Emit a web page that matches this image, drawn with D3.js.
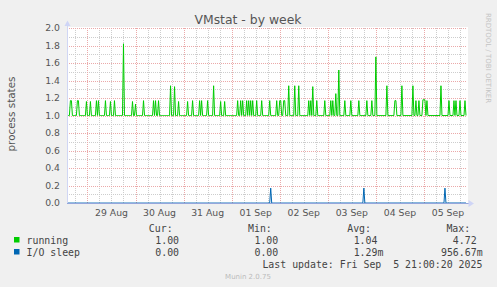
<!DOCTYPE html>
<html>
<head>
<meta charset="utf-8">
<script src="https://cdn.jsdelivr.net/npm/d3@7"></script>
<style>
  body { margin: 0; background: #f0f0f0; }
  svg { display: block; }
</style>
</head>
<body>
<script>
var w = 497;
var h = 287;

// 30 minute samples, first one at 28 Aug 14:00 UTC
var sampleStart = Date.UTC(2025, 7, 28, 14, 0);
var sampleStep = 30 * 60 * 1000;

var running = [
  1,1,1,1.17,1.17,1,1,1,1,1,1.17,1.17,1,1,1,1,1,1,1,1.16,
  1,1,1,1.16,1,1,1,1,1,1.17,1,1.17,1,1,1,1,1,1,1.17,1,
  1,1,1,1.16,1,1,1,1.17,1,1,1,1,1,1,1,1,1.82,1,1,1,
  1,1,1,1,1,1.16,1,1,1.13,1,1,1,1,1,1,1,1.17,1,1,1,
  1,1,1,1,1,1,1.17,1,1.17,1,1,1.17,1,1,1,1,1,1,1,1,
  1,1,1,1.34,1,1,1,1.33,1,1,1,1.16,1,1,1,1,1,1,1,1,
  1.16,1,1,1,1,1.17,1,1,1,1,1,1,1.17,1,1.17,1,1,1,1,1,
  1.17,1,1,1,1,1,1.34,1,1,1,1,1,1,1.16,1,1,1,1.16,1,1,
  1,1,1,1,1,1,1,1,1,1,1.17,1,1,1.17,1,1.17,1,1,1,1.17,
  1,1.17,1,1.17,1,1.17,1,1,1,1.17,1,1,1,1,1.17,1,1,1,1,1,
  1,1,1.17,1,1,1,1,1,1,1.17,1,1,1.17,1.17,1,1,1.17,1.17,1,1,
  1,1.34,1,1,1,1,1,1.34,1,1,1,1.34,1,1,1,1,1,1,1,1,
  1,1.17,1,1.17,1,1.33,1,1,1,1.17,1,1,1,1,1,1,1,1.17,1,1,
  1,1,1,1.17,1,1.17,1,1,1.25,1,1,1.52,1,1,1,1,1,1.17,1,1,
  1,1,1,1.17,1,1,1,1,1,1,1,1.17,1,1,1,1,1,1,1,1.17,
  1,1,1,1,1.17,1,1,1,1.67,1,1,1,1,1,1,1,1,1,1,1.34,
  1,1,1,1,1,1,1,1.17,1.17,1,1,1,1,1,1.34,1,1,1,1,1,
  1,1,1,1,1,1.34,1,1,1.17,1,1,1.17,1,1,1,1.18,1.18,1.18,1,1.17,
  1,1,1,1,1,1,1,1,1,1,1,1,1,1.34,1,1,1,1,1,1,
  1,1.17,1,1,1,1,1.17,1,1.17,1,1,1,1.17,1,1,1,1,1.17,1
];

var ioSleep = [
  0,0,0,0,0,0,0,0,0,0,0,0,0,0,0,0,0,0,0,0,
  0,0,0,0,0,0,0,0,0,0,0,0,0,0,0,0,0,0,0,0,
  0,0,0,0,0,0,0,0,0,0,0,0,0,0,0,0,0,0,0,0,
  0,0,0,0,0,0,0,0,0,0,0,0,0,0,0,0,0,0,0,0,
  0,0,0,0,0,0,0,0,0,0,0,0,0,0,0,0,0,0,0,0,
  0,0,0,0,0,0,0,0,0,0,0,0,0,0,0,0,0,0,0,0,
  0,0,0,0,0,0,0,0,0,0,0,0,0,0,0,0,0,0,0,0,
  0,0,0,0,0,0,0,0,0,0,0,0,0,0,0,0,0,0,0,0,
  0,0,0,0,0,0,0,0,0,0,0,0,0,0,0,0,0,0,0,0,
  0,0,0,0,0,0,0,0,0,0,0,0,0,0,0,0,0,0,0,0,
  0,0,0,0.17,0,0,0,0,0,0,0,0,0,0,0,0,0,0,0,0,
  0,0,0,0,0,0,0,0,0,0,0,0,0,0,0,0,0,0,0,0,
  0,0,0,0,0,0,0,0,0,0,0,0,0,0,0,0,0,0,0,0,
  0,0,0,0,0,0,0,0,0,0,0,0,0,0,0,0,0,0,0,0,
  0,0,0,0,0,0,0,0,0,0,0,0,0,0,0,0,0.17,0,0,0,
  0,0,0,0,0,0,0,0,0,0,0,0,0,0,0,0,0,0,0,0,
  0,0,0,0,0,0,0,0,0,0,0,0,0,0,0,0,0,0,0,0,
  0,0,0,0,0,0,0,0,0,0,0,0,0,0,0,0,0,0,0,0,
  0,0,0,0,0,0,0,0,0,0,0,0,0,0,0,0,0,0.17,0,0,
  0,0,0,0,0,0,0,0,0,0,0,0,0,0,0,0,0,0,0
];

var yTicks = [0, 0.2, 0.4, 0.6, 0.8, 1.0, 1.2, 1.4, 1.6, 1.8, 2.0];
var legendNames = ["running", "I/O sleep"];
var legendColors = ["#00cc00", "#0066b3"];
var curVals = ["1.00", "0.00"];
var minVals = ["1.00", "0.00"];
var avgVals = ["1.04", "1.29m"];
var maxVals = ["4.72", "956.67m"];
var colHeads = ["Cur:", "Min:", "Avg:", "Max:"];

function toPoints(arr) {
  return arr.map(function(v, i) {
    return { t: new Date(sampleStart + i * sampleStep), v: v };
  });
}

var pLeft = 67, pRight = 467, pTop = 28, pBottom = 203;

var xScale = d3.scaleUtc()
  .domain([new Date(Date.UTC(2025, 7, 28, 13, 48)), new Date(Date.UTC(2025, 8, 5, 21, 30))])
  .range([pLeft, pRight]);

var yScale = d3.scaleLinear()
  .domain([0, 2])
  .range([pBottom, pTop]);

var svg = d3.select("body")
  .append("svg")
  .attr("width", w)
  .attr("height", h)
  .style("font-family", "'DejaVu Sans', sans-serif");

svg.append("rect").attr("width", w).attr("height", h).attr("fill", "#f0f0f0");
svg.append("rect")
  .attr("x", pLeft).attr("y", pTop - 1)
  .attr("width", pRight - pLeft + 1).attr("height", pBottom - pTop + 1)
  .attr("fill", "#ffffff");

// grid
var grid = svg.append("g").attr("stroke-dasharray", "1,1").attr("stroke-width", 1);
var dom = xScale.domain();

grid.selectAll("line.xminor")
  .data(d3.utcHour.every(6).range(dom[0], dom[1]).filter(function(d) { return d.getUTCHours() !== 0; }))
  .enter().append("line")
  .attr("x1", function(d) { return Math.round(xScale(d)) + 0.5; })
  .attr("x2", function(d) { return Math.round(xScale(d)) + 0.5; })
  .attr("y1", pTop).attr("y2", pBottom)
  .attr("stroke", "#cdcdcd");

grid.selectAll("line.yminor")
  .data([0.1, 0.3, 0.5, 0.7, 0.9, 1.1, 1.3, 1.5, 1.7, 1.9])
  .enter().append("line")
  .attr("x1", pLeft).attr("x2", pRight)
  .attr("y1", function(d) { return Math.round(yScale(d)) + 0.5; })
  .attr("y2", function(d) { return Math.round(yScale(d)) + 0.5; })
  .attr("stroke", "#cdcdcd");

grid.selectAll("line.xmajor")
  .data(d3.utcDay.range(dom[0], dom[1]))
  .enter().append("line")
  .attr("x1", function(d) { return Math.round(xScale(d)) + 0.5; })
  .attr("x2", function(d) { return Math.round(xScale(d)) + 0.5; })
  .attr("y1", pTop).attr("y2", pBottom)
  .attr("stroke", "#eba9a9");

grid.selectAll("line.ymajor")
  .data(yTicks.slice(1))
  .enter().append("line")
  .attr("x1", pLeft).attr("x2", pRight)
  .attr("y1", function(d) { return Math.round(yScale(d)) + 0.5; })
  .attr("y2", function(d) { return Math.round(yScale(d)) + 0.5; })
  .attr("stroke", "#eba9a9");

// data lines
var line = d3.line()
  .x(function(d) { return xScale(d.t); })
  .y(function(d) { return yScale(d.v); });

svg.append("path")
  .datum(toPoints(running))
  .attr("d", line)
  .attr("fill", "none")
  .attr("stroke", legendColors[0])
  .attr("stroke-width", 1);

svg.append("path")
  .datum(toPoints(ioSleep))
  .attr("d", line)
  .attr("fill", "none")
  .attr("stroke", legendColors[1])
  .attr("stroke-width", 1);

// axes
svg.append("line")
  .attr("x1", pLeft + 0.5).attr("x2", pLeft + 0.5)
  .attr("y1", pBottom).attr("y2", 23)
  .attr("stroke", "#d0d6f4");
svg.append("line")
  .attr("x1", pLeft).attr("x2", pRight + 2)
  .attr("y1", pBottom + 0.5).attr("y2", pBottom + 0.5)
  .attr("stroke", "#94a6dc");
svg.append("path")
  .attr("d", "M64.5,26 L67.5,20.5 L70.5,26 Z")
  .attr("fill", "#cfd5f6");
svg.append("path")
  .attr("d", "M468.5,200 L474,203.5 L468.5,207 Z")
  .attr("fill", "#cfd5f6");

// tick labels
svg.selectAll("text.ytick")
  .data(yTicks)
  .enter().append("text")
  .attr("x", 60)
  .attr("y", function(d) { return yScale(d) + 3.4; })
  .attr("text-anchor", "end")
  .attr("font-size", "9.3px")
  .attr("fill", "#555")
  .text(function(d) { return d.toFixed(1); });

var noons = d3.utcHour.range(dom[0], dom[1]).filter(function(d) { return d.getUTCHours() === 12; });
var fmt = d3.utcFormat("%d %b");
svg.selectAll("text.xtick")
  .data(noons)
  .enter().append("text")
  .attr("x", function(d) { return xScale(d); })
  .attr("y", 216)
  .attr("text-anchor", "middle")
  .attr("font-size", "9.3px")
  .attr("fill", "#555")
  .text(function(d) { return fmt(d); });

// title and side texts
svg.append("text")
  .attr("x", 248).attr("y", 24)
  .attr("text-anchor", "middle")
  .attr("font-size", "12.4px")
  .attr("fill", "#555")
  .text("VMstat - by week");

svg.append("text")
  .attr("transform", "translate(15,114) rotate(-90)")
  .attr("text-anchor", "middle")
  .attr("font-size", "10.4px")
  .attr("fill", "#555")
  .text("process states");

svg.append("text")
  .attr("transform", "translate(486,58) rotate(90)")
  .attr("text-anchor", "middle")
  .attr("font-size", "7px")
  .attr("fill", "#c4c4c4")
  .text("RRDTOOL / TOBI OETIKER");

// legend
var mono = "'DejaVu Sans Mono', monospace";
var colEnds = [185, 284.2, 383.4, 482.6];

svg.selectAll("text.head")
  .data(colHeads)
  .enter().append("text")
  .attr("x", function(d, i) { return colEnds[i] - 12.4; })
  .attr("y", 231.5)
  .attr("text-anchor", "end")
  .attr("font-family", mono)
  .attr("font-size", "9.9px")
  .attr("fill", "#444")
  .text(function(d) { return d; });

var cols = [curVals, minVals, avgVals, maxVals];
legendNames.forEach(function(name, r) {
  var yy = 243.5 + r * 12;
  svg.append("rect")
    .attr("x", 14).attr("y", yy - 6.5)
    .attr("width", 5.5).attr("height", 5.5)
    .attr("fill", legendColors[r]);
  svg.append("text")
    .attr("x", 26.5).attr("y", yy)
    .attr("font-family", mono)
    .attr("font-size", "9.9px")
    .attr("fill", "#444")
    .text(name);
  cols.forEach(function(col, c) {
    var s = col[r];
    var suffix = /[a-zA-Z]$/.test(s);
    svg.append("text")
      .attr("x", suffix ? colEnds[c] : colEnds[c] - 5.96)
      .attr("y", yy)
      .attr("text-anchor", "end")
      .attr("font-family", mono)
      .attr("font-size", "9.9px")
      .attr("fill", "#444")
      .text(s);
  });
});

svg.append("text")
  .attr("x", 482.4).attr("y", 267.5)
  .attr("text-anchor", "end")
  .attr("font-family", mono)
  .attr("font-size", "9.9px")
  .attr("fill", "#444")
  .style("white-space", "pre")
  .text("Last update: Fri Sep  5 21:00:20 2025");

svg.append("text")
  .attr("x", 248).attr("y", 278.5)
  .attr("text-anchor", "middle")
  .attr("font-size", "7px")
  .attr("fill", "#bbbbbb")
  .text("Munin 2.0.75");
</script>
</body>
</html>
